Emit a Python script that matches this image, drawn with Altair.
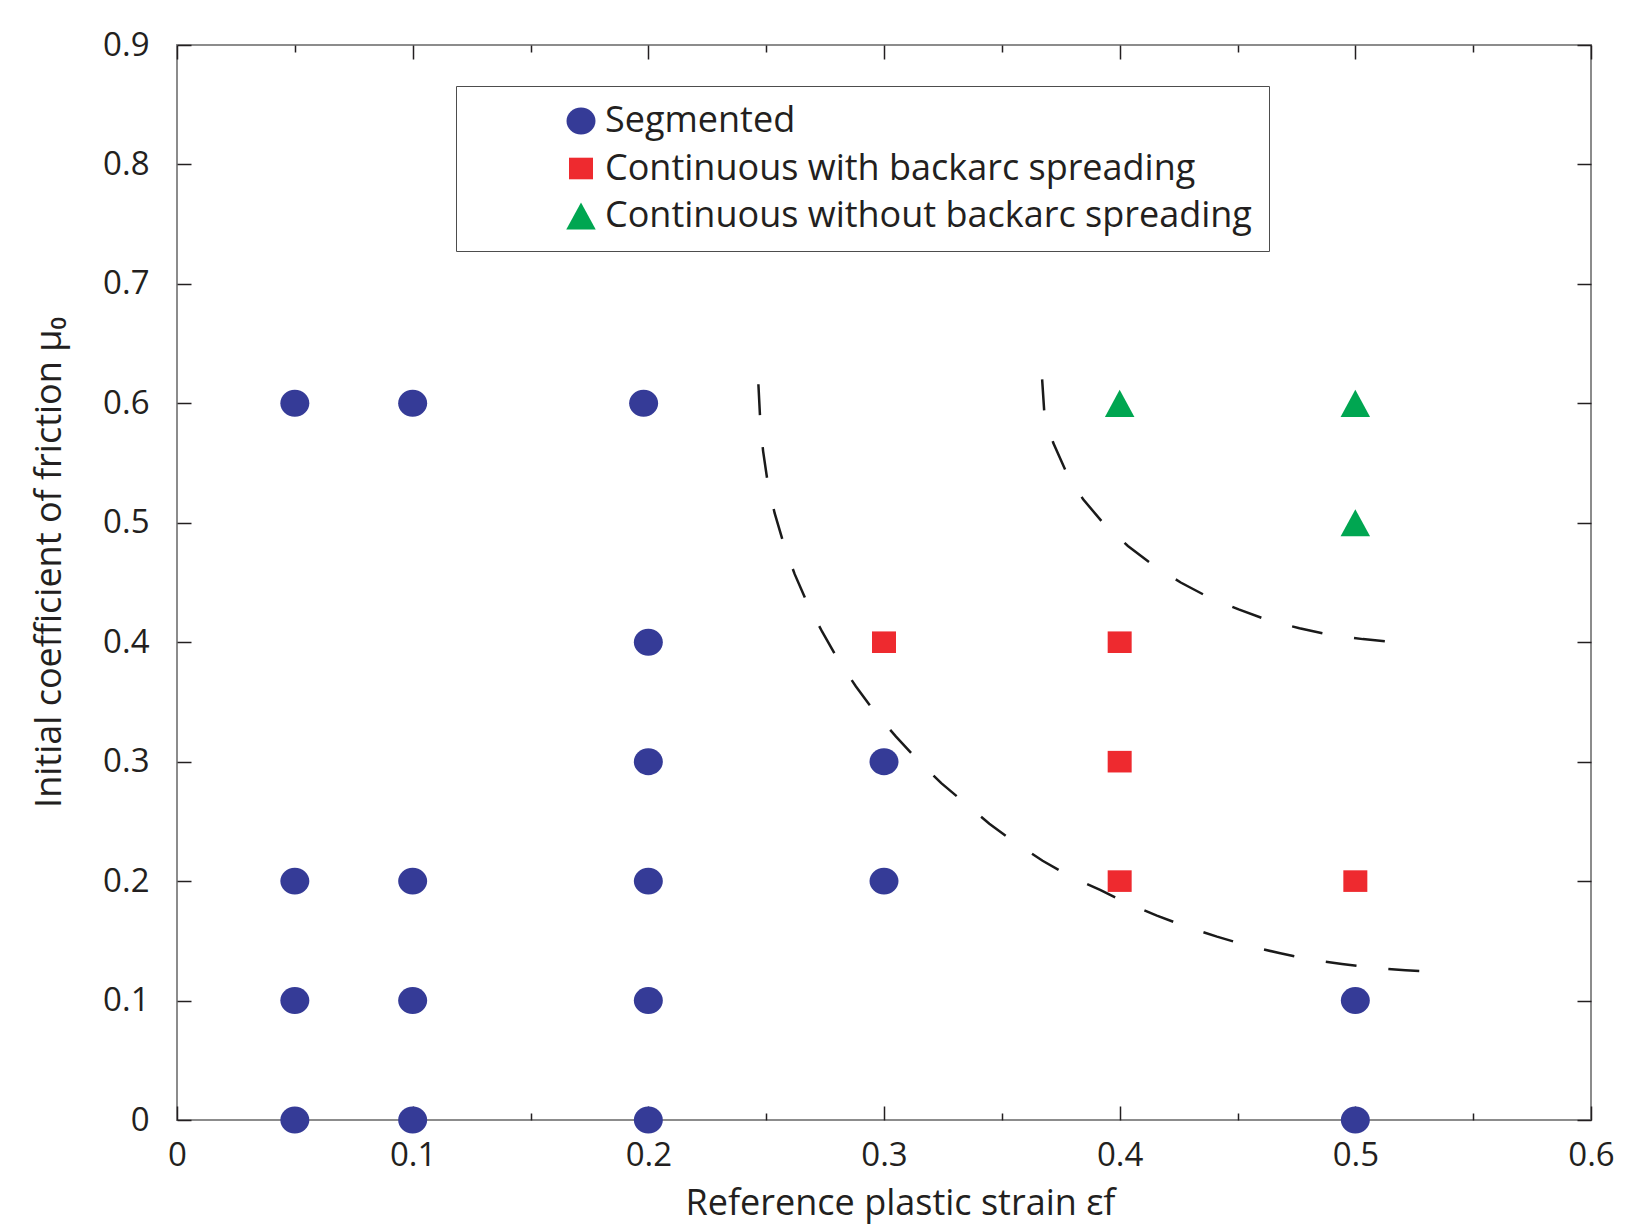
import altair as alt
import pandas as pd

# ---- regimes -------------------------------------------------------------
CATEGORIES = [
    "Segmented",
    "Continuous with backarc spreading",
    "Continuous without backarc spreading",
]
COLORS = ["#353b97", "#ee2a2f", "#00a651"]
# ellipse, square, triangle (unit-box SVG paths)
SHAPES = [
    "M-1,0A1,0.93,0,1,1,1,0A1,0.93,0,1,1,-1,0Z",
    "M-1,-0.9H1V0.9H-1Z",
    "M0,-0.92L1,0.92L-1,0.92Z",
]
SIZES = [841, 576, 870]

# ---- model runs (reference plastic strain, initial friction) -------------
SEG_X = [0.05, 0.1, 0.198, 0.2, 0.2, 0.05, 0.1, 0.2, 0.3, 0.3,
         0.05, 0.1, 0.2, 0.5, 0.05, 0.1, 0.2, 0.5]
SEG_Y = [0.6, 0.6, 0.6, 0.4, 0.3, 0.2, 0.2, 0.2, 0.3, 0.2,
         0.1, 0.1, 0.1, 0.1, 0.0, 0.0, 0.0, 0.0]
CWB_X = [0.3, 0.4, 0.4, 0.4, 0.5]
CWB_Y = [0.4, 0.4, 0.3, 0.2, 0.2]
CWOB_X = [0.4, 0.5, 0.5]
CWOB_Y = [0.6, 0.6, 0.5]

# ---- regime boundaries ---------------------------------------------------
LOWER_X = [0.2467, 0.2475, 0.2487, 0.2507, 0.2536, 0.2575, 0.2621, 0.2676,
           0.2737, 0.2806, 0.2881, 0.2963, 0.3051, 0.3145, 0.3243, 0.3345,
           0.3447, 0.3558, 0.3673, 0.3790, 0.3917, 0.4029, 0.4158, 0.4282,
           0.4413, 0.4541, 0.4677, 0.4806, 0.4943, 0.5075, 0.5213, 0.5347]
LOWER_Y = [0.616, 0.585, 0.560, 0.533, 0.508, 0.482, 0.457, 0.432,
           0.409, 0.385, 0.363, 0.341, 0.321, 0.301, 0.282, 0.265,
           0.248, 0.232, 0.217, 0.204, 0.1926, 0.1817, 0.1711, 0.1619,
           0.1535, 0.1460, 0.1398, 0.1345, 0.1306, 0.1273, 0.1253, 0.1239]
UPPER_X = [0.3671, 0.3680, 0.3718, 0.3773, 0.3845, 0.3934, 0.4035, 0.4143,
           0.4259, 0.4376, 0.4505, 0.4630, 0.4763, 0.4893, 0.5032, 0.5166]
UPPER_Y = [0.620, 0.593, 0.567, 0.5425, 0.5196, 0.4989, 0.4806, 0.4645,
           0.4500, 0.4378, 0.4275, 0.4184, 0.4117, 0.4062, 0.4026, 0.4001]

# ---- axis ticks ----------------------------------------------------------
X_TICKS = [0, 0.1, 0.2, 0.3, 0.4, 0.5, 0.6]
X_MINOR = [0.05, 0.15, 0.25, 0.35, 0.45, 0.55]
Y_TICKS = [0, 0.1, 0.2, 0.3, 0.4, 0.5, 0.6, 0.7, 0.8, 0.9]

W, H = 1414, 1075
FONT = "Open Sans"
INK = "#231f20"

points = pd.DataFrame({
    "strain": SEG_X + CWB_X + CWOB_X,
    "friction": SEG_Y + CWB_Y + CWOB_Y,
    "regime": [CATEGORIES[0]] * len(SEG_X)
    + [CATEGORIES[1]] * len(CWB_X)
    + [CATEGORIES[2]] * len(CWOB_X),
})
lower = pd.DataFrame({"strain": LOWER_X, "friction": LOWER_Y,
                      "idx": range(len(LOWER_X))})
upper = pd.DataFrame({"strain": UPPER_X, "friction": UPPER_Y,
                      "idx": range(len(UPPER_X))})

x_scale = alt.Scale(domain=[0, 0.6], nice=False, zero=False)
y_scale = alt.Scale(domain=[0, 0.9], nice=False, zero=False)

legend = alt.Legend(
    orient="none", legendX=279, legendY=41, direction="vertical",
    title=None, padding=17, symbolOffset=90, labelOffset=6,
    rowPadding=11.5, labelFont=FONT, labelFontSize=36, labelColor=INK,
    labelLimit=1000, strokeColor="#4d4d4d", fillColor="white",
    symbolStrokeWidth=0,
)

# minor x ticks are shorter than major ones
x_tick_size = {"condition": {"test": "round(datum.value * 20) % 2 === 1",
                             "value": 7}, "value": 14}
X_ALL = sorted(X_TICKS + X_MINOR)

scatter = alt.Chart(points).mark_point(filled=True, opacity=1, strokeWidth=0).encode(
    x=alt.X("strain:Q", scale=x_scale, axis=alt.Axis(
        orient="bottom", values=X_TICKS, format="~g", ticks=False, tickSize=0,
        domain=False, grid=False, labelPadding=19, labelFlush=False,
        title="Reference plastic strain εf", titleX=723, titleY=94,
        titleAlign="center", titleBaseline="alphabetic")),
    y=alt.Y("friction:Q", scale=y_scale, axis=alt.Axis(
        orient="left", values=Y_TICKS, format="~g", ticks=False, tickSize=0,
        domain=False, grid=False, labelPadding=28,
        title="Initial coefficient of friction μ₀", titleX=-117, titleY=517,
        titleAngle=270, titleAlign="center", titleBaseline="alphabetic")),
    color=alt.Color("regime:N", scale=alt.Scale(domain=CATEGORIES, range=COLORS),
                    legend=legend),
    shape=alt.Shape("regime:N", scale=alt.Scale(domain=CATEGORIES, range=SHAPES),
                    legend=legend),
    size=alt.Size("regime:N", scale=alt.Scale(type="ordinal", domain=CATEGORIES,
                                              range=SIZES),
                  legend=legend),
)

dash = dict(color="#1a1a1a", strokeWidth=2.5, strokeDash=[31, 32])

# lower boundary carries the inward ticks of the bottom and left edges
lower_line = alt.Chart(lower).mark_line(**dash).encode(
    x=alt.X("strain:Q", scale=x_scale, axis=alt.Axis(
        orient="top", offset=-H, values=X_ALL, labels=False, domain=False,
        grid=False, title=None, tickColor=INK, tickWidth=1.5,
        tickSize=x_tick_size)),
    y=alt.Y("friction:Q", scale=y_scale, axis=alt.Axis(
        orient="right", offset=-W, values=Y_TICKS, labels=False,
        domain=False, grid=False, title=None, tickColor=INK, tickWidth=1.5,
        tickSize=14)),
    order="idx:Q",
)

# upper boundary carries the inward ticks of the top and right edges
upper_line = alt.Chart(upper).mark_line(**dash).encode(
    x=alt.X("strain:Q", scale=x_scale, axis=alt.Axis(
        orient="bottom", offset=-H, values=X_ALL, labels=False, domain=False,
        grid=False, title=None, tickColor=INK, tickWidth=1.5,
        tickSize=x_tick_size)),
    y=alt.Y("friction:Q", scale=y_scale, axis=alt.Axis(
        orient="left", offset=-W, values=Y_TICKS, labels=False,
        domain=False, grid=False, title=None, tickColor=INK, tickWidth=1.5,
        tickSize=14)),
    order="idx:Q",
)

chart = (
    alt.layer(scatter, lower_line, upper_line)
    .resolve_axis(x="independent", y="independent")
    .properties(
        width=W, height=H,
        padding={"left": 177, "top": 45, "right": 34, "bottom": 106},
        autosize=alt.AutoSizeParams(type="none"),
        background="white",
    )
    .configure_view(stroke="#8c8c8c", strokeWidth=2)
    .configure_axis(labelFont=FONT, labelFontSize=33, labelColor=INK,
                    titleFont=FONT, titleFontSize=36, titleFontWeight="normal",
                    titleColor=INK)
)

chart.save("out.html", embed_options={"renderer": "svg", "actions": False})
